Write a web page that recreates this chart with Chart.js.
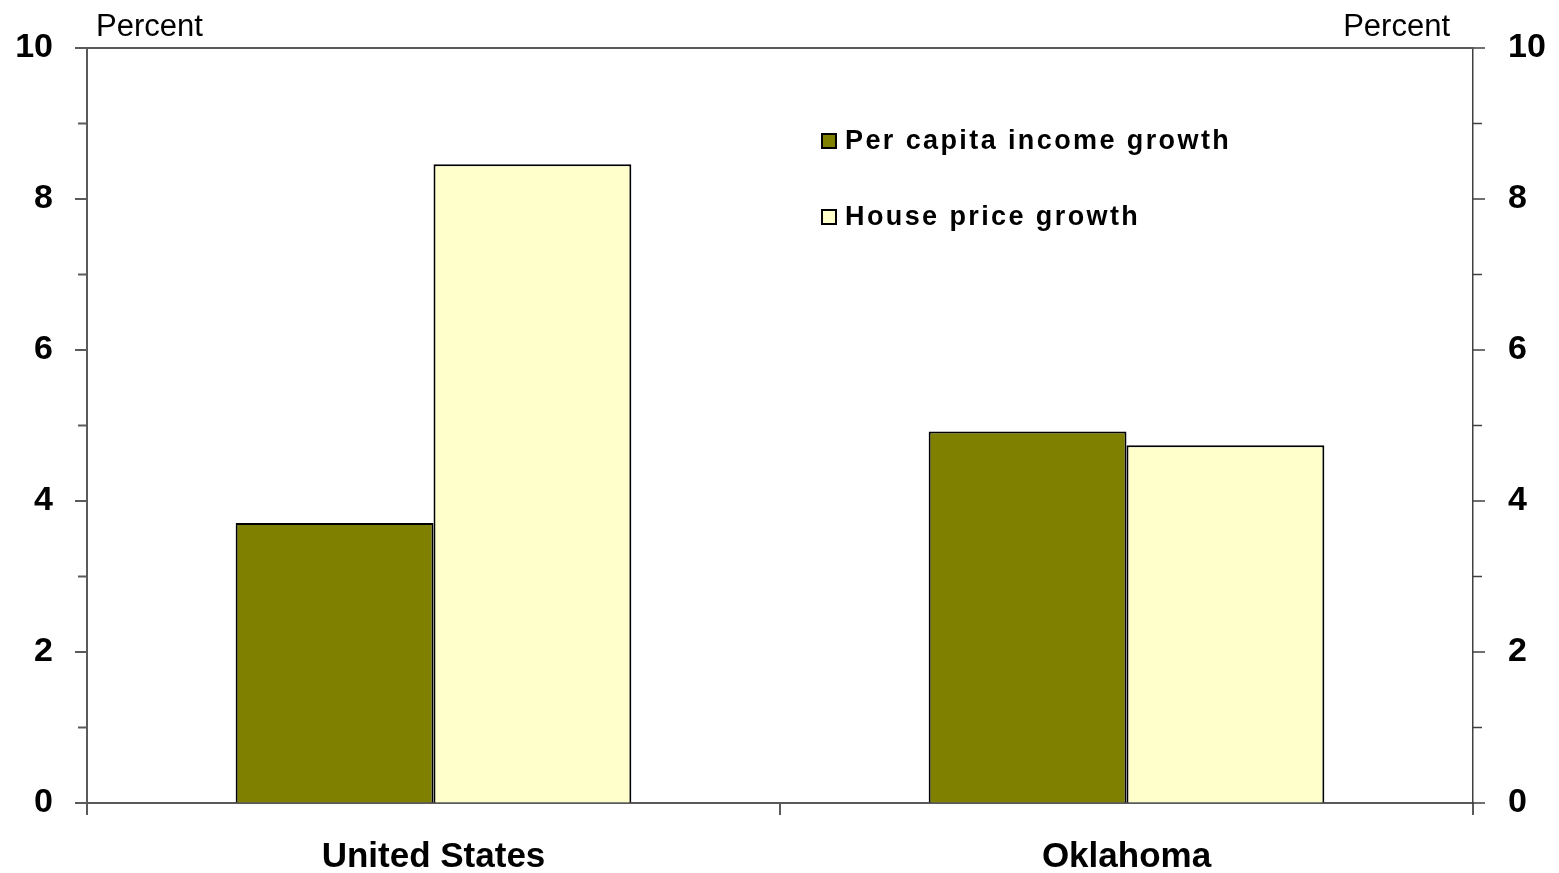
<!DOCTYPE html>
<html>
<head>
<meta charset="utf-8">
<script src="https://cdn.jsdelivr.net/npm/chart.js@4.4.1/dist/chart.umd.min.js"></script>
<style>
  html, body { margin: 0; padding: 0; background: #fff; }
  #wrap { position: relative; width: 1559px; height: 873px; }
  #legend { position: absolute; left: 0; top: 0; font-family: "Liberation Sans", Arial, sans-serif; font-weight: bold; font-size: 27px; color: #000; }
  .item { position: absolute; white-space: nowrap; line-height: 27px; letter-spacing: 2.4px; }
  .box { position: absolute; width: 12px; height: 12px; border: 2px solid #000; }
</style>
</head>
<body>
<div id="wrap">
  <canvas id="c" width="1559" height="873"></canvas>
  <div id="legend"></div>
</div>
<script>
const categories = ["United States", "Oklahoma"];
const seriesNames = ["Per capita income growth", "House price growth"];
const incomeGrowth = [3.71, 4.92];
const housePriceGrowth = [8.46, 4.74];
const seriesColors = ["#808000", "#FFFFCC"];
const yMin = 0, yMax = 10;
const axisTitle = "Percent";

const FONT = '"Liberation Sans", Arial, sans-serif';

const decor = {
  id: 'decor',
  afterDraw(chart) {
    const ctx = chart.ctx;
    const a = chart.chartArea;
    ctx.save();
    ctx.strokeStyle = '#5a5a5a';
    ctx.lineWidth = 2;
    ctx.beginPath();
    ctx.moveTo(a.left, a.top);
    ctx.lineTo(a.right, a.top);
    ctx.stroke();
    const yl = chart.scales.y, yr = chart.scales.y2;
    for (let v = yMin; v <= yMax; v++) {
      const len = v % 2 === 0 ? 12 : 9;
      const py = yl.getPixelForValue(v);
      ctx.lineWidth = 2;
      ctx.strokeStyle = '#5a5a5a';
      ctx.beginPath();
      ctx.moveTo(a.left - len, py);
      ctx.lineTo(a.left, py);
      ctx.stroke();
      const pr = yr.getPixelForValue(v);
      ctx.lineWidth = 1.5;
      ctx.strokeStyle = '#404040';
      ctx.beginPath();
      ctx.moveTo(a.right, pr);
      ctx.lineTo(a.right + len, pr);
      ctx.stroke();
    }
    ctx.fillStyle = '#000';
    ctx.font = '31px ' + FONT;
    ctx.textBaseline = 'alphabetic';
    ctx.textAlign = 'left';
    ctx.fillText(axisTitle, 96, 36);
    ctx.textAlign = 'right';
    ctx.fillText(axisTitle, 1450, 36);
    ctx.restore();
  }
};

function fixY(width) {
  return function (s) { s.width = width; s.paddingTop = 0; s.paddingBottom = 0; };
}

const chart = new Chart(document.getElementById('c'), {
  type: 'bar',
  data: {
    labels: categories,
    datasets: [
      { label: seriesNames[0], data: incomeGrowth, backgroundColor: seriesColors[0], borderColor: '#000', borderWidth: 2, yAxisID: 'y' },
      { label: seriesNames[1], data: housePriceGrowth, backgroundColor: seriesColors[1], borderColor: '#000', borderWidth: 2, yAxisID: 'y' }
    ]
  },
  options: {
    responsive: false,
    animation: false,
    devicePixelRatio: 1,
    layout: { padding: { top: 48, left: 0, right: 0, bottom: 0 } },
    datasets: { bar: { categoryPercentage: 0.571, barPercentage: 1.0 } },
    plugins: { legend: { display: false }, tooltip: { enabled: false } },
    scales: {
      x: {
        grid: { display: true, drawOnChartArea: false, drawTicks: true, tickLength: 12, color: '#5a5a5a', lineWidth: 2, offset: true },
        border: { display: true, color: '#5a5a5a', width: 2 },
        ticks: { color: '#000', font: { family: FONT, size: 35, weight: 'bold' }, padding: 21 },
        afterFit(s) { s.height = 70; s.paddingLeft = 0; s.paddingRight = 0; }
      },
      y: {
        position: 'left',
        min: yMin, max: yMax,
        ticks: { stepSize: 1, color: '#000', font: { family: FONT, size: 34, weight: 'bold' }, padding: 34,
          callback: v => (v % 2 === 0 ? v : '') },
        grid: { drawOnChartArea: false, drawTicks: false },
        border: { display: true, color: '#5a5a5a', width: 2 },
        afterFit: fixY(87)
      },
      y2: {
        position: 'right',
        min: yMin, max: yMax,
        ticks: { stepSize: 1, color: '#000', font: { family: FONT, size: 34, weight: 'bold' }, padding: 35,
          callback: v => (v % 2 === 0 ? v : '') },
        grid: { drawOnChartArea: false, drawTicks: false },
        border: { display: true, color: '#404040', width: 1.5 },
        afterFit: fixY(86)
      }
    }
  },
  plugins: [decor]
});

const legend = document.getElementById('legend');
const legendTops = [127, 203];
chart.data.datasets.forEach((ds, i) => {
  const box = document.createElement('div');
  box.className = 'box';
  box.style.left = '821px';
  box.style.top = (legendTops[i] + 6) + 'px';
  box.style.background = ds.backgroundColor;
  legend.appendChild(box);
  const t = document.createElement('div');
  t.className = 'item';
  t.style.left = '845px';
  t.style.top = legendTops[i] + 'px';
  t.textContent = ds.label;
  legend.appendChild(t);
});
</script>
</body>
</html>
